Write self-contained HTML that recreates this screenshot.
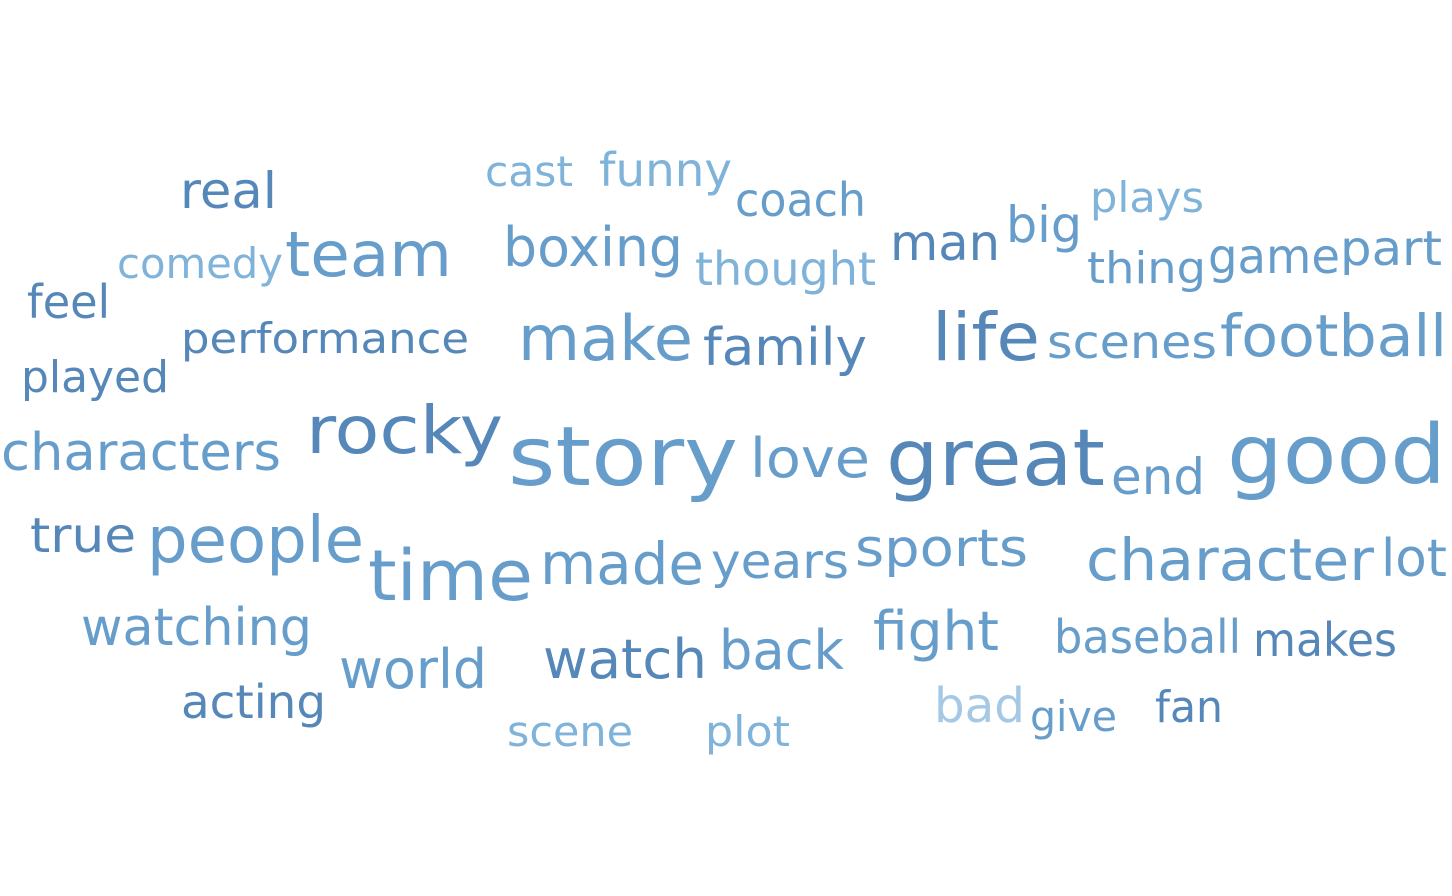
<!DOCTYPE html>
<html><head><meta charset="utf-8"><style>
html,body{margin:0;padding:0;background:#fff;}
svg{display:block;}
text{font-family:"DejaVu Sans","Liberation Sans",sans-serif;}
</style></head>
<body>
<svg id="cloud" width="1452" height="896" viewBox="0 0 1452 896"></svg>
<script>
const words=["real","cast","funny","coach","man","big","plays","comedy","team","boxing","thought","thing","game","part","feel","performance","make","family","life","scenes","football","played","characters","rocky","story","love","great","end","good","true","people","time","made","years","sports","character","lot","watching","fight","baseball","makes","world","watch","back","acting","bad","give","fan","scene","plot"];
const weights=[50,42,46,46,50,50,42,42,62,54,46,44,48,48,46,42,62,52,66,46,58,44,52,66,82,54,78,50,82,48,64,70,58,48,52,58,52,52,54,46,46,54,54,54,46,48,42,44,42,42];
const shades=[2,0,0,1,2,1,0,0,1,1,0,1,1,1,2,2,1,2,2,1,1,2,1,2,1,1,2,1,1,2,1,1,1,1,1,1,1,1,1,1,2,1,2,1,2,3,1,2,0,0];
const palette=["#80b3d9","#679dca","#5687b9","#a5c9e4"];
// layout (left, right, baseline)
const layout=[[180,277,208],[485,573,186],[599,732,186],[735,866,216],[890,1000,260],[1006,1082,242],[1090,1204,212],[117,283,278],[285,452,276],[503,683,266],[695,876,285],[1087,1206,283],[1208,1340,273],[1340,1442,265],[27,110,318],[181,469,353],[518,693,360],[703,867,365],[932,1040,360],[1047,1217,358],[1220,1447,356],[21,169,392],[1,281,470],[306,503,453],[508,738,485],[750,870,477],[886,1105,485],[1111,1205,494],[1227,1446,483],[30,136,552],[147,364,562],[368,533,600],[540,704,584],[711,849,578],[855,1028,566],[1086,1374,580],[1381,1447,576],[81,312,645],[873,999,650],[1054,1241,653],[1253,1397,656],[339,487,688],[543,707,678],[719,844,669],[181,326,718],[934,1025,722],[1030,1117,731],[1155,1223,722],[507,633,746],[705,790,746]];
const svg=document.getElementById('cloud');
const NS='http://www.w3.org/2000/svg';
words.forEach((w,i)=>{
  const t=document.createElementNS(NS,'text');
  const L=layout[i];
  t.setAttribute('x',L[0]);
  t.setAttribute('y',L[2]);
  t.setAttribute('font-size',weights[i]);
  t.setAttribute('textLength',L[1]-L[0]);
  t.setAttribute('lengthAdjust','spacingAndGlyphs');
  t.setAttribute('fill',palette[shades[i]]);
  
  
  t.textContent=w;
  svg.appendChild(t);
});
</script>
</body></html>
